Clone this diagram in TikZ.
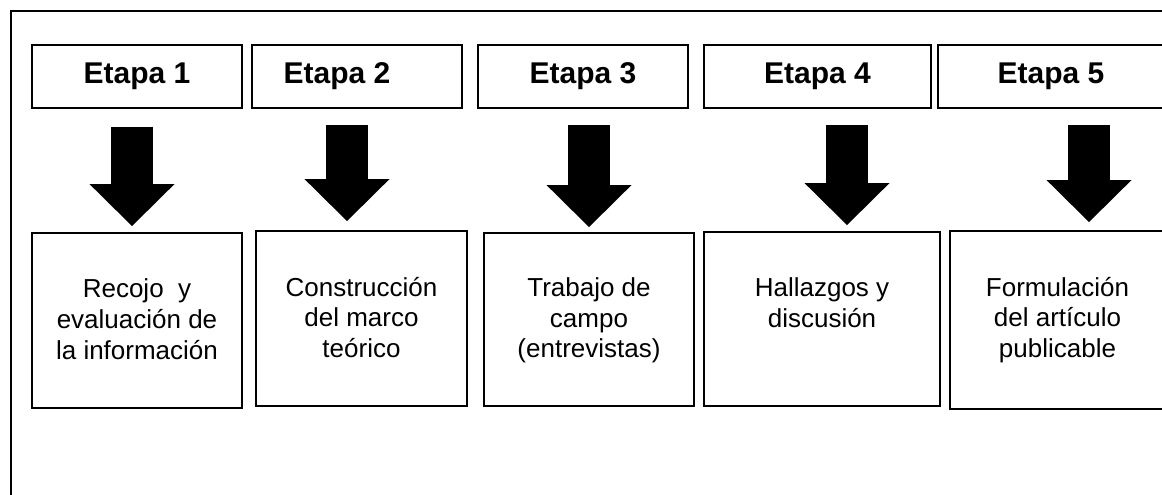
\documentclass[tikz,border=0pt]{standalone}
\usepackage{fontspec}
\setmainfont{Liberation Sans}
\usetikzlibrary{positioning, arrows.meta, calc}
\tikzset{
    stagebox/.style={draw, line width=0.9pt, inner sep=0pt, minimum height=47.25pt,
      font=\fontsize{22.5}{27}\selectfont\bfseries},
    descbox/.style={draw, line width=1.4pt, inner sep=0pt},
    desctext/.style={align=center, inner sep=0pt, font=\fontsize{19.5}{23}\selectfont},
    bigarrow/.style={line width=31.5pt, -{Triangle[width=63.75pt, length=31.5pt, line width=0pt]}},
    frame/.style={line width=1.6pt},
}

\begin{document}
\begin{tikzpicture}[x=0.75pt, y=-0.75pt]
    \useasboundingbox (0,0) rectangle (1162,495);
    \clip (0,0) rectangle (1162,495);

    % outer frame (runs off the page to the right and below)
    \draw[frame] (11,495) -- (11,11) -- (1162,11);

    % stages
    \node[stagebox, minimum width=157.5pt] (e1) at (137,76.5) {Etapa 1};
    \node[stagebox, minimum width=157.5pt] (e2) at (357,76.5) {Etapa 2\hspace*{30pt}};
    \node[stagebox, minimum width=157.5pt] (e3) at (583,76.5) {Etapa 3};
    \node[stagebox, minimum width=170.25pt] (e4) at (817.5,76.5) {Etapa 4};
    \node[stagebox, minimum width=169.5pt] (e5) at (1051,76.5) {Etapa 5};

    % activities
    \node[descbox, minimum width=157.5pt, minimum height=131.25pt] (r1) at (137,320.5) {};
    \node[descbox, minimum width=158.25pt, minimum height=131.25pt] (r2) at (361.5,318.5) {};
    \node[descbox, minimum width=157.5pt, minimum height=129.75pt] (r3) at (589,319.5) {};
    \node[descbox, minimum width=177pt, minimum height=130.5pt] (r4) at (822,319) {};
    \node[descbox, minimum width=161.25pt, minimum height=133.5pt] (r5) at (1057.5,320) {};

    \node[desctext, below=35pt of r1.north] (t1) {Recojo\ \ y\\evaluación de\\la información};
    \node[desctext, below=35pt of r2.north] (t2) {Construcción\\del marco\\teórico};
    \node[desctext, below=34pt of r3.north] (t3) {Trabajo de\\campo\\(entrevistas)};
    \node[desctext, below=35pt of r4.north] (t4) {Hallazgos y\\discusión};
    \node[desctext, below=35pt of r5.north] (t5) {Formulación\\del artículo\\publicable};

    % block arrows
    \draw[bigarrow] ($(e1.south)+(-5,18)$) -- ($(r1.north)+(-5,-6)$);
    \draw[bigarrow] ($(e2.south)+(-10,16)$) -- ($(r2.north)+(-14.5,-9)$);
    \draw[bigarrow] ($(e3.south)+(6,16)$) -- ($(r3.north)+(0,-5)$);
    \draw[bigarrow] ($(e4.south)+(29.5,16)$) -- ($(r4.north)+(25,-6)$);
    \draw[bigarrow] ($(e5.south)+(38,16)$) -- ($(r5.north)+(31.5,-8)$);
\end{tikzpicture}
\end{document}
